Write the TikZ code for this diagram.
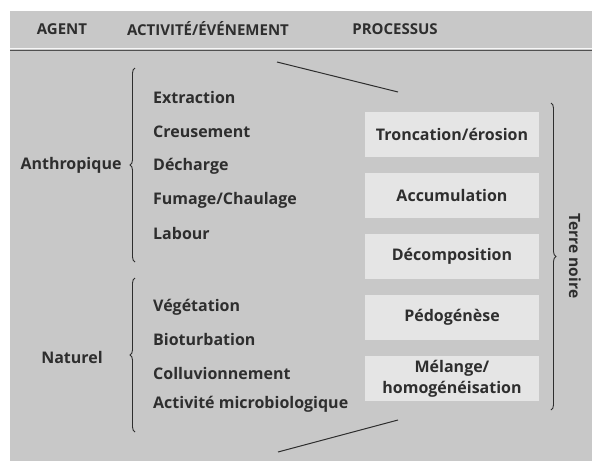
\documentclass[tikz,border=0pt]{standalone}
\usepackage{fontspec}
\setmainfont{Open Sans}
\usetikzlibrary{decorations.pathreplacing}
\definecolor{bggray}{HTML}{C8C8C8}
\definecolor{boxgray}{HTML}{E5E5E5}
\definecolor{txt}{HTML}{2E2E2E}
\definecolor{rulegray}{HTML}{505050}
\tikzset{
  lbl/.style={font=\fontsize{16}{21}\selectfont\bfseries, text=txt, inner sep=0pt},
  item/.style={lbl, anchor=west},
  head/.style={lbl, font=\fontsize{15}{18}\selectfont\bfseries},
  procbox/.style={lbl, fill=boxgray, minimum width=174pt, minimum height=45pt, align=center, text width=170pt},
  brc/.style={draw=txt, line width=0.9pt, decorate, decoration={brace, amplitude=5pt}},
  diag/.style={draw=txt, line width=1pt}
}
\begin{document}
\begin{tikzpicture}[x=1pt,y=-1pt]
\useasboundingbox (0,0) rectangle (592,461);
% background
\fill[bggray] (10,11) rectangle (592,461);
\draw[white!85!bggray, line width=0.8pt] (10,48) -- (592,48);
\draw[rulegray, line width=1.4pt] (10,50.6) -- (592,50.6);
% headers
\node[head] (hAgent) at (62,29) {AGENT};
\node[head] (hAct) at (208,29) {ACTIVITÉ/ÉVÉNEMENT};
\node[head] (hProc) at (395,29) {PROCESSUS};
% agents
\node[lbl] (anthro) at (71,165) {Anthropique};
\node[lbl] (nat) at (72,357) {Naturel};
% activities
\node[item] (a1) at (153,97) {Extraction};
\node[item] (a2) at (153,132) {Creusement};
\node[item] (a3) at (153,166) {Décharge};
\node[item] (a4) at (153,200) {Fumage/Chaulage};
\node[item] (a5) at (153,233) {Labour};
\node[item] (n1) at (153,307) {Végétation};
\node[item] (n2) at (153,339) {Bioturbation};
\node[item] (n3) at (153,373) {Colluvionnement};
\node[item] (n4) at (153,404) {Activité microbiologique};
% processes
\node[procbox] (p1) at (452,134.5) {Troncation/érosion};
\node[procbox] (p2) at (452,195.5) {Accumulation};
\node[procbox] (p3) at (452,256) {Décomposition};
\node[procbox] (p4) at (452,317.5) {Pédogénèse};
\node[procbox] (p5) at (452,378.5) {Mélange/\\homogénéisation};
% braces
\coordinate (bA1) at (135,68);
\coordinate (bA2) at (135,262);
\coordinate (bN1) at (135,278);
\coordinate (bN2) at (135,432);
\coordinate (bR1) at (551,103);
\coordinate (bR2) at (551,410);
\draw[brc] (bA2) -- (bA1);
\draw[brc] (bN2) -- (bN1);
\draw[brc] (bR1) -- (bR2);
\node[lbl, font=\fontsize{15.5}{18}\selectfont\bfseries, rotate=-90] (terre) at (575,256) {Terre noire};
% diagonal lines
\coordinate (dT1) at (277,62);
\coordinate (dT2) at (398,92);
\coordinate (dB1) at (278,452);
\coordinate (dB2) at (398,420);
\draw[diag] (dT1) -- (dT2);
\draw[diag] (dB1) -- (dB2);
\end{tikzpicture}
\end{document}
